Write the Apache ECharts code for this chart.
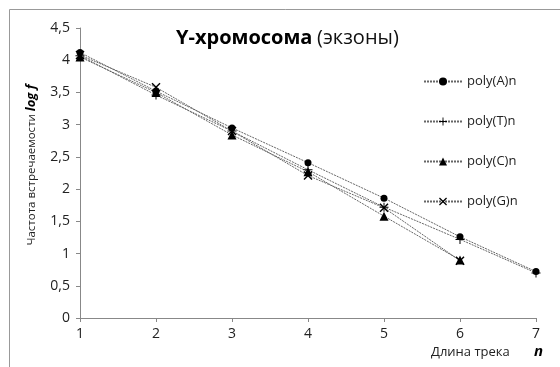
<!DOCTYPE html>
<html>
<head>
<meta charset="utf-8">
<script src="https://cdn.jsdelivr.net/npm/echarts@6/dist/echarts.min.js"></script>
<style>
  html, body { margin: 0; padding: 0; background: #fff; }
  #chart { width: 560px; height: 367px; }
</style>
</head>
<body>
<div id="chart"></div>
<script>
// track length n
const lengths = ['1', '2', '3', '4', '5', '6', '7']
// log f per nucleotide
const polyA = [4.12, 3.52, 2.95, 2.41, 1.86, 1.26, 0.72]
const polyT = [4.07, 3.46, 2.90, 2.30, 1.72, 1.22, 0.70]
const polyC = [4.05, 3.50, 2.84, 2.27, 1.58, 0.90]
const polyG = [4.08, 3.58, 2.90, 2.21, 1.71, 0.89]

const FONT = '"Open Sans", "Noto Sans", sans-serif'
const plusSym = 'path://M4,0h1v9h-1z M0,4h9v1h-9z'
const crossSym = 'path://M0,1L1,0L9,8L8,9Z M8,0L9,1L1,9L0,8Z'

function makeSeries(name, data, symbol, size) {
  return {
    name: name,
    type: 'line',
    data: data,
    symbol: symbol,
    symbolSize: size,
    showSymbol: true,
    itemStyle: { color: '#000' },
    lineStyle: { color: '#666', width: 1, type: [2, 1] },
    animation: false
  }
}

const chart = echarts.init(document.getElementById('chart'))
chart.setOption({
  backgroundColor: '#fff',
  textStyle: { fontFamily: FONT },
  title: {
    text: '{b|Y-хромосома} {n|(экзоны)}',
    left: 171,
    top: 23,
    textStyle: {
      rich: {
        b: { fontFamily: FONT, fontSize: 20, fontWeight: 'bold', color: '#000' },
        n: { fontFamily: FONT, fontSize: 20, fontWeight: 'normal', color: '#111' }
      }
    }
  },
  grid: { left: 80, right: 24, top: 28, bottom: 49 },
  legend: {
    orient: 'vertical',
    left: 423,
    top: 75,
    padding: 0,
    itemWidth: 38,
    itemHeight: 10,
    itemGap: 27,
    textStyle: { fontFamily: FONT, fontSize: 13, color: '#222' },
    data: ['poly(A)n', 'poly(T)n', 'poly(C)n', 'poly(G)n']
  },
  xAxis: {
    type: 'category',
    data: lengths,
    boundaryGap: false,
    axisLine: { lineStyle: { color: '#888' } },
    axisTick: { alignWithLabel: true, length: 4, lineStyle: { color: '#888' } },
    axisLabel: { color: '#222', fontSize: 14, margin: 9, fontFamily: FONT }
  },
  yAxis: {
    type: 'value',
    min: 0,
    max: 4.5,
    interval: 0.5,
    splitLine: { show: false },
    axisLine: { show: true, lineStyle: { color: '#888' } },
    axisTick: { show: true, length: 4, lineStyle: { color: '#888' } },
    axisLabel: {
      color: '#222',
      fontSize: 14,
      margin: 10,
      fontFamily: FONT,
      formatter: v => String(v).replace('.', ',')
    },
    name: '{a|Частота встречаемости }{b|log f}',
    nameLocation: 'middle',
    nameGap: 42,
    nameTextStyle: {
      padding: [0, 0, 0, 16],
      rich: {
        a: { fontFamily: FONT, fontSize: 11.5, color: '#222' },
        b: { fontFamily: FONT, fontSize: 13, fontWeight: 'bold', fontStyle: 'italic', color: '#000' }
      }
    }
  },
  graphic: [
    {
      type: 'rect',
      shape: { x: 9.5, y: 9.5, width: 600, height: 400 },
      style: { fill: 'none', stroke: '#999', lineWidth: 1 },
      silent: true
    },
    {
      type: 'text',
      left: 431,
      top: 346,
      style: { text: 'Длина трека', font: '13px ' + FONT, fill: '#222' }
    },
    {
      type: 'text',
      left: 534,
      top: 344,
      style: { text: 'n', font: 'italic bold 15px ' + FONT, fill: '#000' }
    }
  ],
  series: [
    makeSeries('poly(A)n', polyA, 'circle', 7),
    makeSeries('poly(T)n', polyT, plusSym, 9),
    makeSeries('poly(C)n', polyC, 'triangle', 9),
    makeSeries('poly(G)n', polyG, crossSym, 9)
  ]
})
</script>
</body>
</html>
